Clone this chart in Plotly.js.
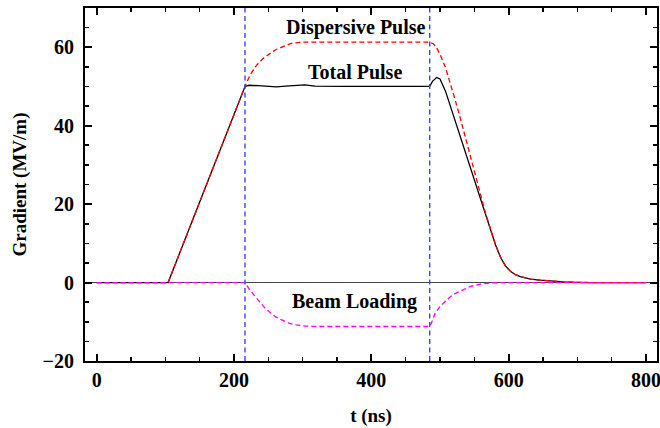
<!DOCTYPE html>
<html>
<head>
<meta charset="utf-8">
<script src="https://cdn.plot.ly/plotly-3.0.1.min.js"></script>
<style>html,body{margin:0;padding:0;background:#fff;}#chart{width:660px;height:428px;}</style>
</head>
<body>
<div id="chart"></div>
<script>
// Total pulse (black solid)
const tTotal = [0, 104, 216, 222, 235, 250, 262, 275, 290, 303, 318, 335, 360, 485, 489, 495, 500, 508, 515, 522, 530, 537, 544, 552, 559, 566, 574, 581, 588, 595, 603, 610, 617, 632, 646, 661, 680, 700, 720, 800];
const gTotal = [0, 0, 50.0, 50.3, 50.2, 50.0, 49.9, 50.1, 50.3, 50.4, 50.1, 50.0, 50.0, 50.0, 51.3, 52.3, 51.9, 48.8, 45.0, 41.2, 37.0, 33.3, 29.6, 25.4, 21.6, 17.6, 13.2, 9.5, 6.5, 4.3, 2.8, 2.0, 1.5, 0.9, 0.6, 0.35, 0.15, 0.05, 0, 0];

// Dispersive pulse (red dashed)
const tDisp = [0, 104, 216, 223, 231, 238, 245, 253, 260, 268, 275, 282, 290, 300, 485, 490, 494, 500, 508, 515, 522, 530, 537, 544, 552, 559, 566, 574, 581, 588, 595, 603, 610, 617, 632, 646, 661, 680, 700, 720, 800];
const gDisp = [0, 0, 50.0, 52.8, 55.0, 56.4, 57.5, 58.5, 59.3, 59.9, 60.5, 60.9, 61.1, 61.3, 61.3, 60.9, 60.2, 58.2, 54.8, 50.9, 46.6, 41.6, 37.0, 32.0, 26.8, 22.3, 17.9, 13.4, 9.6, 6.5, 4.3, 2.8, 2.0, 1.5, 0.9, 0.6, 0.35, 0.15, 0.05, 0, 0];

// Beam loading (magenta dashed)
const tBeam = [0, 216, 223, 231, 238, 245, 253, 260, 268, 275, 282, 290, 304, 320, 485, 486, 488, 493, 500, 508, 515, 522, 530, 544, 559, 574, 590, 800];
const gBeam = [0, 0, -1.9, -3.6, -5.2, -6.5, -7.7, -8.7, -9.4, -10.0, -10.5, -10.8, -11.1, -11.2, -11.2, -11.0, -10.0, -7.8, -6.1, -4.8, -3.6, -2.8, -2.1, -1.0, -0.4, -0.1, 0, 0];

// Marker times (blue dashed verticals)
const markerTimes = [216, 485];
const xLimits = [-17, 816];
const yLimits = [-20, 70];

const xTickVals = [0, 200, 400, 600, 800];
const xTickText = ['0', '200', '400', '600', '800'];
const yTickVals = [-20, 0, 20, 40, 60];
const yTickText = ['\u221220', '0', '20', '40', '60'];

const labels = ['Dispersive Pulse', 'Total Pulse', 'Beam Loading'];

const FONT = 'Liberation Serif, Times New Roman, serif';
const boldFont = (s) => ({family: FONT, size: s, color: '#000', weight: 'bold'});

const traces = [
  {x: tTotal, y: gTotal, mode: 'lines', line: {color: '#000000', width: 1.3}, hoverinfo: 'skip'},
  {x: tDisp, y: gDisp, mode: 'lines', line: {color: '#ff0000', width: 1.3, dash: '5px,3px'}, hoverinfo: 'skip'},
  {x: tBeam, y: gBeam, mode: 'lines', line: {color: '#ff00ff', width: 1.3, dash: '5px,3px'}, hoverinfo: 'skip'}
];
markerTimes.forEach(t => {
  traces.push({x: [t, t], y: yLimits, mode: 'lines', line: {color: '#3535ff', width: 1.3, dash: '5px,3.5px'}, hoverinfo: 'skip'});
});

const layout = {
  width: 660, height: 428,
  margin: {l: 85, r: 3, t: 8, b: 67},
  paper_bgcolor: '#fff', plot_bgcolor: '#fff',
  showlegend: false,
  xaxis: {
    range: xLimits, showgrid: false, zeroline: false,
    showline: true, linecolor: '#000', linewidth: 2, mirror: 'allticks',
    ticks: 'inside', ticklen: 7, tickwidth: 2, tickcolor: '#000',
    tickmode: 'array', tickvals: xTickVals, ticktext: xTickText,
    minor: {ticks: 'inside', ticklen: 4, tickwidth: 1.6, tickcolor: '#000', dtick: 50, tick0: 0},
    tickfont: boldFont(20), ticklabeloverflow: 'allow',
    title: {text: 't (ns)', font: boldFont(19), standoff: 19}
  },
  yaxis: {
    range: yLimits, showgrid: false,
    zeroline: true, zerolinecolor: '#444', zerolinewidth: 1.6,
    showline: true, linecolor: '#000', linewidth: 2, mirror: 'allticks',
    ticks: 'inside', ticklen: 7, tickwidth: 2, tickcolor: '#000',
    tickmode: 'array', tickvals: yTickVals, ticktext: yTickText,
    minor: {ticks: 'inside', ticklen: 4, tickwidth: 1.6, tickcolor: '#000', dtick: 5, tick0: 0},
    tickfont: boldFont(20), ticklabelstandoff: 5, ticklabeloverflow: 'allow',
    title: {text: 'Gradient (MV/m)', font: boldFont(19), standoff: 11}
  },
  annotations: [
    {x: 377, y: 65.1, text: labels[0]},
    {x: 376.5, y: 53.6, text: labels[1]},
    {x: 376, y: -4.9, text: labels[2]}
  ].map(a => Object.assign(a, {xref: 'x', yref: 'y', showarrow: false, xanchor: 'center', yanchor: 'middle',
    font: boldFont(20)}))
};

Plotly.newPlot('chart', traces, layout, {displayModeBar: false, staticPlot: true});
</script>
</body>
</html>
